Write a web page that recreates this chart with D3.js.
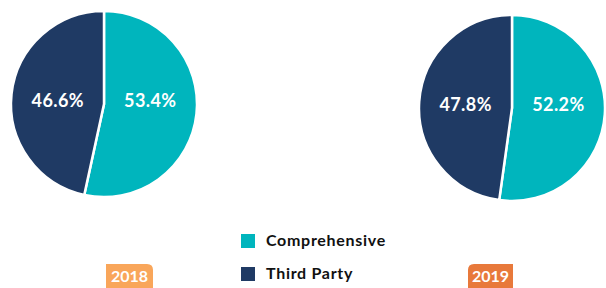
<!DOCTYPE html>
<html>
<head>
<meta charset="utf-8">
<script src="https://cdn.jsdelivr.net/npm/d3@7"></script>
<style>
  body { margin: 0; background: #fff; }
  text { font-family: "Lato", "DejaVu Sans", sans-serif; font-weight: bold; }
</style>
</head>
<body>
<div id="chart"></div>
<script>
// data
const categories = ['Comprehensive', 'Third Party'];
const years = ['2018', '2019'];
const share2018 = [53.4, 46.6];
const share2019 = [52.2, 47.8];

const width = 606, height = 288;
const colors = d3.scaleOrdinal().domain(categories).range(['#00b5bd', '#1f3a64']);
const yearColors = d3.scaleOrdinal().domain(years).range(['#f9a65a', '#e8793b']);

const svg = d3.select('#chart').append('svg')
  .attr('width', width)
  .attr('height', height);

const pie = d3.pie().sort(null).value(d => d);
const radius = 93;
const arc = d3.arc().outerRadius(radius).innerRadius(0);

// one pie per year
const pies = [
  { year: '2018', values: share2018, cx: 104, cy: 104 },
  { year: '2019', values: share2019, cx: 512, cy: 108 }
];

pies.forEach(p => {
  const g = svg.append('g').attr('transform', 'translate(' + p.cx + ',' + p.cy + ')');
  const slices = pie(p.values);
  g.selectAll('path').data(slices).enter().append('path')
    .attr('d', arc)
    .attr('fill', (d, i) => colors(categories[i]))
    .attr('stroke', '#fff')
    .attr('stroke-width', 2.5);
  // labels sit level across the middle of the pie
  g.selectAll('text').data(slices).enter().append('text')
    .each(function (d) {
      const c = arc.centroid(d);
      d3.select(this).attr('x', c[0]).attr('y', -4);
    })
    .attr('text-anchor', 'middle')
    .attr('dominant-baseline', 'central')
    .attr('fill', '#fff')
    .style('font-size', '18px')
    .style('letter-spacing', '0.4px')
    .text(d => d.data.toFixed(1) + '%');
});

// year tags
const tags = [
  { year: '2018', x: 106, w: 47, corner: 'tr' },
  { year: '2019', x: 468, w: 45, corner: 'tl' }
];
tags.forEach(t => {
  const y0 = 264, h = 25, r = 6;
  let d;
  if (t.corner === 'tr') {
    d = 'M' + t.x + ',' + y0 + 'H' + (t.x + t.w - r) + 'Q' + (t.x + t.w) + ',' + y0 + ' ' + (t.x + t.w) + ',' + (y0 + r) +
      'V' + (y0 + h) + 'H' + t.x + 'Z';
  } else {
    d = 'M' + (t.x + r) + ',' + y0 + 'H' + (t.x + t.w) + 'V' + (y0 + h) + 'H' + t.x + 'V' + (y0 + r) +
      'Q' + t.x + ',' + y0 + ' ' + (t.x + r) + ',' + y0 + 'Z';
  }
  svg.append('path').attr('d', d).attr('fill', yearColors(t.year));
  svg.append('text')
    .attr('x', t.x + t.w / 2)
    .attr('y', y0 + 18)
    .attr('text-anchor', 'middle')
    .attr('fill', '#fff')
    .style('font-size', '16px')
    .text(t.year);
});

// legend
const legend = svg.append('g').attr('transform', 'translate(241,234)')
  .selectAll('.legends').data(categories).enter().append('g')
  .attr('transform', (d, i) => 'translate(0,' + i * 33 + ')');
legend.append('rect').attr('width', 14).attr('height', 14).attr('fill', d => colors(d));
legend.append('text')
  .attr('x', 25)
  .attr('y', 12)
  .attr('fill', '#111')
  .style('font-size', '16px')
  .style('letter-spacing', '0.7px')
  .text(d => d);
</script>
</body>
</html>
